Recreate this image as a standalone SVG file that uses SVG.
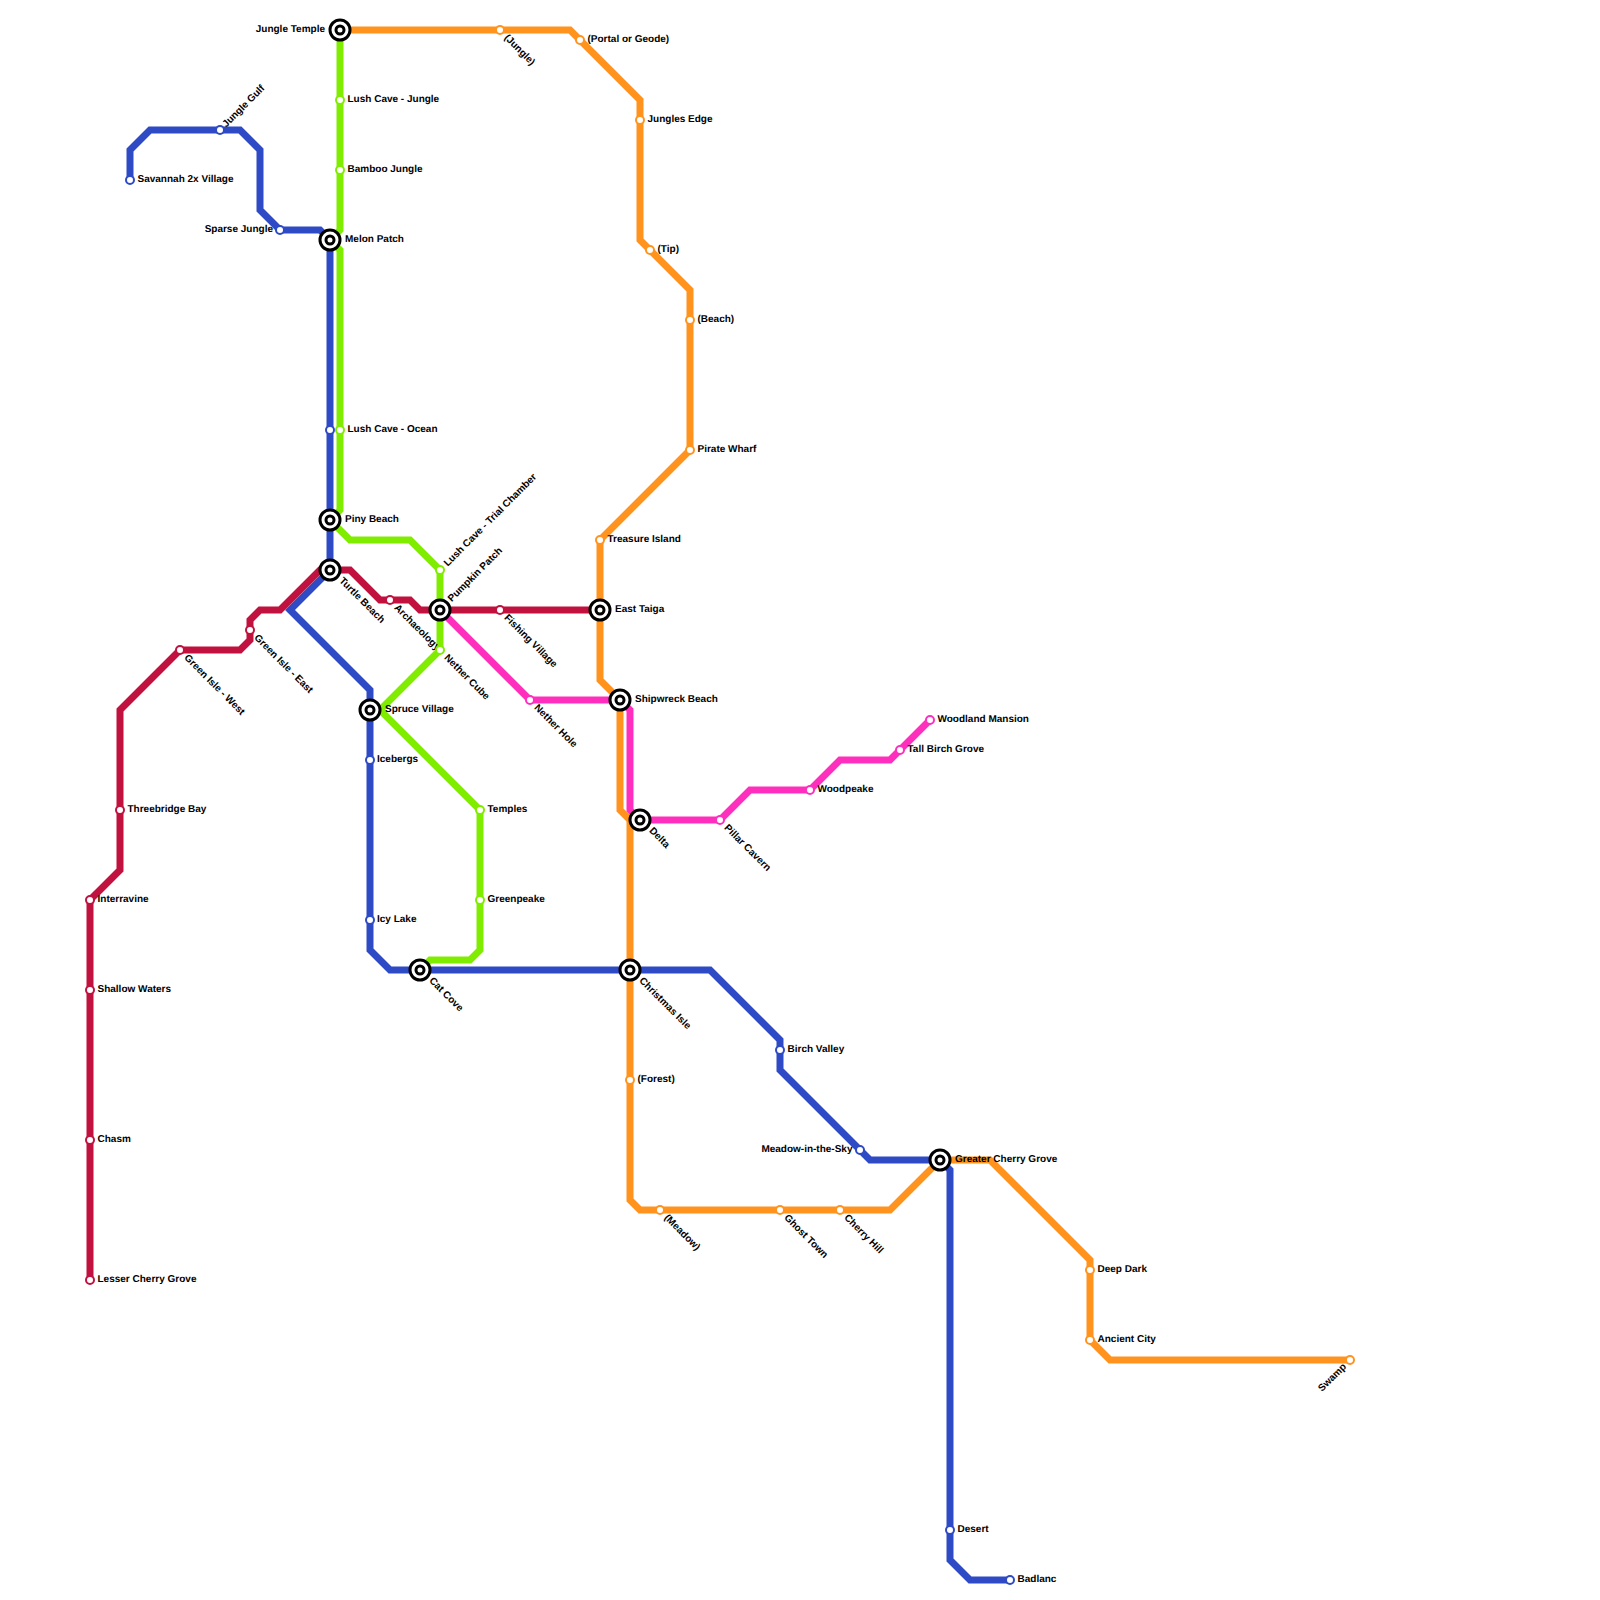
<svg xmlns="http://www.w3.org/2000/svg" width="1600" height="1600" viewBox="0 0 1600 1600">
<defs>
<g id="ix"><circle r="10" class="o"/><circle r="4" class="o"/></g>
</defs>
<style>
.l{fill:none;stroke-width:7;stroke-linejoin:miter}
.o{fill:#fff;stroke:#000;stroke-width:3}
.s{fill:#fff;stroke-width:2}
text{font-family:"Liberation Sans",Arial,sans-serif;font-size:10px;font-weight:700;fill:#000;dominant-baseline:central;text-rendering:geometricPrecision}
.e{text-anchor:end}
.or{stroke:#ff931e}.bl{stroke:#2e4ac4}.gr{stroke:#80ed00}.re{stroke:#c1113f}.pk{stroke:#ff2fbe}
</style>
<rect width="1600" height="1600" fill="#fff"/>
<g id="connectors">
<path class="l or" d="M340 30H570L640 100V240L690 290V450L600 540V680L620 700V810L630 820V1200L640 1210H890L940 1160H990L1090 1260V1340L1110 1360H1350"/>
<path class="l gr" d="M340 30V230L330 240L340 250V510L330 520L350 540H410L440 570V650L380 710L480 810V950L470 960H430L420 970"/>
<path class="l bl" d="M130 180V150L150 130H240L260 150V210L280 230H320L330 240V570L290 610L370 690V950L390 970H710L780 1040V1070L870 1160H940L950 1170V1560L970 1580H1010"/>
<path class="l re" d="M90 1280V900L120 870V710L180 650H240L250 640V620L260 610H280L320 570H350L380 600H410L420 610H600"/>
<path class="l pk" d="M440 610L530 700H620L630 710V810L640 820H720L750 790H810L840 760H890L930 720"/>
</g>
<g id="n-savannah"><circle class="s bl" cx="130" cy="180" r="4"/><text x="137.500" y="179.500">Savannah 2x Village</text></g>
<g id="n-jungle-gulf"><circle class="s bl" cx="220" cy="130" r="4"/><text transform="translate(224.500 126) rotate(-45)">Jungle Gulf</text></g>
<g id="n-sparse-jungle"><circle class="s bl" cx="280" cy="230" r="4"/><text class="e" x="273" y="229.500">Sparse Jungle</text></g>
<g id="n-jungle-temple"><use href="#ix" x="340" y="30"/><text class="e" x="325" y="29.500">Jungle Temple</text></g>
<g id="n-lush-jungle"><circle class="s gr" cx="340" cy="100" r="4"/><text x="347.500" y="99.500">Lush Cave - Jungle</text></g>
<g id="n-bamboo"><circle class="s gr" cx="340" cy="170" r="4"/><text x="347.500" y="169.500">Bamboo Jungle</text></g>
<g id="n-melon"><use href="#ix" x="330" y="240"/><text x="345" y="239.500">Melon Patch</text></g>
<g id="n-lush-ocean"><circle class="s bl" cx="330" cy="430" r="4"/><circle class="s gr" cx="340" cy="430" r="4"/><text x="347.500" y="429.500">Lush Cave - Ocean</text></g>
<g id="n-piny"><use href="#ix" x="330" y="520"/><text x="345" y="519.500">Piny Beach</text></g>
<g id="n-turtle"><use href="#ix" x="330" y="570"/><text transform="translate(340.500 579.500) rotate(45)">Turtle Beach</text></g>
<g id="n-trial"><circle class="s gr" cx="440" cy="570" r="4"/><text transform="translate(446 565) rotate(-45)">Lush Cave - Trial Chamber</text></g>
<g id="n-pumpkin"><use href="#ix" x="440" y="610"/><text transform="translate(450 600.500) rotate(-45)">Pumpkin Patch</text></g>
<g id="n-archaeology"><circle class="s re" cx="390" cy="600" r="4"/><text transform="translate(395.500 606.500) rotate(45)">Archaeology</text></g>
<g id="n-fishing"><circle class="s re" cx="500" cy="610" r="4"/><text transform="translate(505.500 616.500) rotate(45)">Fishing Village</text></g>
<g id="n-east-taiga"><use href="#ix" x="600" y="610"/><text x="615" y="609.500">East Taiga</text></g>
<g id="n-nether-cube"><circle class="s gr" cx="440" cy="650" r="4"/><text transform="translate(445.500 656.500) rotate(45)">Nether Cube</text></g>
<g id="n-nether-hole"><circle class="s pk" cx="530" cy="700" r="4"/><text transform="translate(535.500 706.500) rotate(45)">Nether Hole</text></g>
<g id="n-shipwreck"><use href="#ix" x="620" y="700"/><text x="635" y="699.500">Shipwreck Beach</text></g>
<g id="n-spruce"><use href="#ix" x="370" y="710"/><text x="385" y="709.500">Spruce Village</text></g>
<g id="n-icebergs"><circle class="s bl" cx="370" cy="760" r="4"/><text x="377" y="759.500">Icebergs</text></g>
<g id="n-temples"><circle class="s gr" cx="480" cy="810" r="4"/><text x="487.500" y="809.500">Temples</text></g>
<g id="n-greenpeake"><circle class="s gr" cx="480" cy="900" r="4"/><text x="487.500" y="899.500">Greenpeake</text></g>
<g id="n-icy-lake"><circle class="s bl" cx="370" cy="920" r="4"/><text x="377" y="919.500">Icy Lake</text></g>
<g id="n-cat-cove"><use href="#ix" x="420" y="970"/><text transform="translate(430.500 979.500) rotate(45)">Cat Cove</text></g>
<g id="n-christmas"><use href="#ix" x="630" y="970"/><text transform="translate(640.500 979.500) rotate(45)">Christmas Isle</text></g>
<g id="n-delta"><use href="#ix" x="640" y="820"/><text transform="translate(650.500 829.500) rotate(45)">Delta</text></g>
<g id="n-pillar"><circle class="s pk" cx="720" cy="820" r="4"/><text transform="translate(725.500 826.500) rotate(45)">Pillar Cavern</text></g>
<g id="n-woodpeake"><circle class="s pk" cx="810" cy="790" r="4"/><text x="817.500" y="789.500">Woodpeake</text></g>
<g id="n-tall-birch"><circle class="s pk" cx="900" cy="750" r="4"/><text x="907.500" y="749.500">Tall Birch Grove</text></g>
<g id="n-mansion"><circle class="s pk" cx="930" cy="720" r="4"/><text x="937.500" y="719.500">Woodland Mansion</text></g>
<g id="n-green-west"><circle class="s re" cx="180" cy="650" r="4"/><text transform="translate(185.500 656.500) rotate(45)">Green Isle - West</text></g>
<g id="n-green-east"><circle class="s re" cx="250" cy="630" r="4"/><text transform="translate(255.500 636.500) rotate(45)">Green Isle - East</text></g>
<g id="n-threebridge"><circle class="s re" cx="120" cy="810" r="4"/><text x="127.500" y="809.500">Threebridge Bay</text></g>
<g id="n-interravine"><circle class="s re" cx="90" cy="900" r="4"/><text x="97.500" y="899.500">Interravine</text></g>
<g id="n-shallow"><circle class="s re" cx="90" cy="990" r="4"/><text x="97.500" y="989.500">Shallow Waters</text></g>
<g id="n-chasm"><circle class="s re" cx="90" cy="1140" r="4"/><text x="97.500" y="1139.500">Chasm</text></g>
<g id="n-lesser"><circle class="s re" cx="90" cy="1280" r="4"/><text x="97.500" y="1279.500">Lesser Cherry Grove</text></g>
<g id="n-jungle"><circle class="s or" cx="500" cy="30" r="4"/><text transform="translate(505.500 36.500) rotate(45)">(Jungle)</text></g>
<g id="n-portal"><circle class="s or" cx="580" cy="40" r="4"/><text x="587.500" y="39.500">(Portal or Geode)</text></g>
<g id="n-jungles-edge"><circle class="s or" cx="640" cy="120" r="4"/><text x="647.500" y="119.500">Jungles Edge</text></g>
<g id="n-tip"><circle class="s or" cx="650" cy="250" r="4"/><text x="657.500" y="249.500">(Tip)</text></g>
<g id="n-beach"><circle class="s or" cx="690" cy="320" r="4"/><text x="697.500" y="319.500">(Beach)</text></g>
<g id="n-pirate"><circle class="s or" cx="690" cy="450" r="4"/><text x="697.500" y="449.500">Pirate Wharf</text></g>
<g id="n-treasure"><circle class="s or" cx="600" cy="540" r="4"/><text x="607.500" y="539.500">Treasure Island</text></g>
<g id="n-forest"><circle class="s or" cx="630" cy="1080" r="4"/><text x="637.500" y="1079.500">(Forest)</text></g>
<g id="n-meadow"><circle class="s or" cx="660" cy="1210" r="4"/><text transform="translate(665.500 1216.500) rotate(45)">(Meadow)</text></g>
<g id="n-ghost"><circle class="s or" cx="780" cy="1210" r="4"/><text transform="translate(785.500 1216.500) rotate(45)">Ghost Town</text></g>
<g id="n-cherry-hill"><circle class="s or" cx="840" cy="1210" r="4"/><text transform="translate(845.500 1216.500) rotate(45)">Cherry Hill</text></g>
<g id="n-birch"><circle class="s bl" cx="780" cy="1050" r="4"/><text x="787.500" y="1049.500">Birch Valley</text></g>
<g id="n-meadow-sky"><circle class="s bl" cx="860" cy="1150" r="4"/><text class="e" x="852.500" y="1149.500">Meadow-in-the-Sky</text></g>
<g id="n-greater"><use href="#ix" x="940" y="1160"/><text x="955" y="1159.500">Greater Cherry Grove</text></g>
<g id="n-deep-dark"><circle class="s or" cx="1090" cy="1270" r="4"/><text x="1097.500" y="1269.500">Deep Dark</text></g>
<g id="n-ancient"><circle class="s or" cx="1090" cy="1340" r="4"/><text x="1097.500" y="1339.500">Ancient City</text></g>
<g id="n-swamp"><circle class="s or" cx="1350" cy="1360" r="4"/><text class="e" transform="translate(1345 1365.500) rotate(-45)">Swamp</text></g>
<g id="n-desert"><circle class="s bl" cx="950" cy="1530" r="4"/><text x="957.500" y="1529.500">Desert</text></g>
<g id="n-badlanc"><circle class="s bl" cx="1010" cy="1580" r="4"/><text x="1017.500" y="1579.500">Badlanc</text></g>
</svg>
